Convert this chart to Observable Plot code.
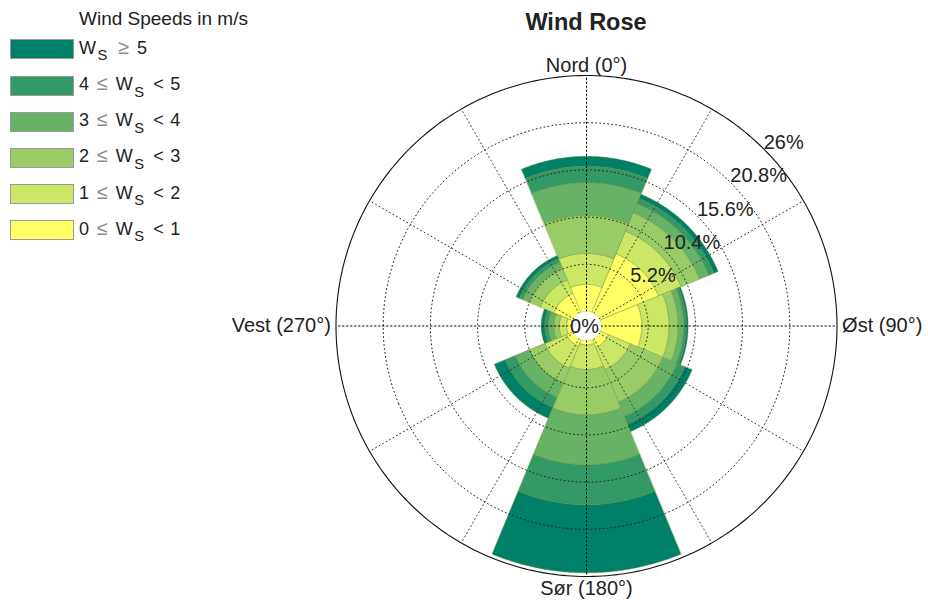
<!DOCTYPE html>
<html>
<head>
<meta charset="utf-8">
<script src="https://cdn.jsdelivr.net/npm/d3@7"></script>
<script src="https://cdn.jsdelivr.net/npm/@observablehq/plot@0.6"></script>
<style>
  body { margin: 0; background: #fff; font-family: "Liberation Sans", Arial, Helvetica, sans-serif; color: #222; }
  #wrap { position: relative; width: 928px; height: 600px; overflow: hidden; }
  #wrap svg { position: absolute; left: 0; top: 0; }
  #title { position: absolute; left: 486px; width: 200px; top: 11px; text-align: center; font-weight: bold; font-size: 23.5px; line-height: 23px; }
  #legend-title { position: absolute; left: 79px; top: 9px; font-size: 19px; line-height: 19px; white-space: nowrap; }
  .sw { position: absolute; left: 10px; width: 64px; height: 20px; border: 1px solid #9a9a9a; box-sizing: border-box; }
  .lab { position: absolute; left: 79px; font-size: 18px; line-height: 20px; white-space: nowrap; }
  .lab .op { color: #8a8a8a; margin: 0 0.4em; font-size: 1.1em; }
  .lab .w { letter-spacing: 0.5px; }
  .lab sub { font-size: 0.82em; vertical-align: -0.45em; line-height: 0; margin-left: 1px; margin-right: 3px; }
  .lab .lt { margin: 0 0.35em; }
</style>
</head>
<body>
<div id="wrap">
  <div id="title">Wind Rose</div>
  <div id="legend-title">Wind Speeds in m/s</div>
</div>
<script>
// ---------- data ----------
const directions = ["N", "NE", "E", "SE", "S", "SW", "W", "NW"];
const dirAngles = [0, 45, 90, 135, 180, 225, 270, 315];
const speedBins = ["0-1", "1-2", "2-3", "3-4", "4-5", ">=5"];
const binColors = ["#ffff66", "#cce666", "#99cc66", "#66b366", "#339966", "#008066"];
// frequency (%) per direction for each wind-speed bin
const f0to1 = [3.0, 7.0, 4.5, 1.0, 0.5, 0.8, 0.6, 2.3];
const f1to2 = [3.4, 2.7, 3.0, 2.6, 2.7, 2.6, 0.8, 1.6];
const f2to3 = [4.2, 2.2, 1.0, 3.9, 5.0, 1.8, 0.6, 1.4];
const f3to4 = [3.6, 1.1, 0.6, 1.7, 5.5, 1.7, 0.6, 0.7];
const f4to5 = [1.8, 0.6, 0.3, 0.9, 4.4, 1.2, 0.4, 0.4];
const f5up  = [1.1, 0.5, 0.2, 0.9, 7.5, 1.3, 0.4, 0.4];
const radialTicks = [5.2, 10.4, 15.6, 20.8, 26];
const gridAngles = [0, 30, 60, 90, 120, 150, 180, 210, 240, 270, 300, 330];
const axisLabels = ["Nord (0°)", "Øst (90°)", "Sør (180°)", "Vest (270°)"];
const axisAngles = [0, 90, 180, 270];
const legendLabels = [
  '<span class="w">W</span><sub>S</sub><span class="op">≥</span>5',
  '4<span class="op">≤</span><span class="w">W</span><sub>S</sub><span class="lt">&lt;</span>5',
  '3<span class="op">≤</span><span class="w">W</span><sub>S</sub><span class="lt">&lt;</span>4',
  '2<span class="op">≤</span><span class="w">W</span><sub>S</sub><span class="lt">&lt;</span>3',
  '1<span class="op">≤</span><span class="w">W</span><sub>S</sub><span class="lt">&lt;</span>2',
  '0<span class="op">≤</span><span class="w">W</span><sub>S</sub><span class="lt">&lt;</span>1'
];

// ---------- geometry helpers ----------
const series = [f0to1, f1to2, f2to3, f3to4, f4to5, f5up];
const OFFSET = 1.6;               // radial room for the central "0%" disc (in % units)
const RMAX = radialTicks[radialTicks.length - 1];
const rad = v => OFFSET + v;      // radial distance in "degrees" from the pole
const lon = a => 180 - a;         // compass angle -> longitude (pole-centred projection)
const lat = v => 90 - rad(v);
const HALF = 22.5;

const features = [];
directions.forEach((d, i) => {
  let cum = 0;
  series.forEach((arr, b) => {
    const r0 = cum, r1 = cum + arr[i];
    cum = r1;
    const a0 = dirAngles[i] - HALF, a1 = dirAngles[i] + HALF;
    const ring = [];
    for (let a = a0; a <= a1 + 1e-9; a += 0.5) ring.push([lon(a), lat(r1)]);
    for (let a = a1; a >= a0 - 1e-9; a -= 0.5) ring.push([lon(a), lat(r0)]);
    ring.push(ring[0].slice());
    const f = {type: "Feature", properties: {bin: speedBins[b], dir: d},
               geometry: {type: "Polygon", coordinates: [ring]}};
    if (d3.geoArea(f) > 2 * Math.PI) ring.reverse();
    features.push(f);
  });
});

const circle = v => d3.geoCircle().center([0, 90]).radius(rad(v)).precision(1)();
const gridCircles = radialTicks.slice(0, -1).map(circle);
const spokes = gridAngles.map(a => ({type: "LineString", coordinates: [[lon(a), lat(0)], [lon(a), lat(RMAX)]]}));
const cardinalSpokes = spokes.filter((s, i) => gridAngles[i] % 90 === 0);
const otherSpokes = spokes.filter((s, i) => gridAngles[i] % 90 !== 0);
const axisData = axisLabels.map((label, i) => ({label, angle: axisAngles[i]}));

// anchor just inside the outer ring so the point is never clipped by the frame
const textMark = (angle, opts) => Plot.text(axisData.filter(d => d.angle === angle), {
  x: d => lon(d.angle), y: () => lat(RMAX - 0.1), text: "label", fontSize: 20, fill: "#222", ...opts
});

const chart = Plot.plot({
  width: 928,
  height: 600,
  marginLeft: 335,
  marginRight: 91,
  marginTop: 75,
  marginBottom: 24,
  style: {fontFamily: '"Liberation Sans", Arial, Helvetica, sans-serif', background: "white"},
  projection: {
    type: "azimuthal-equidistant",
    rotate: [0, -90],
    domain: d3.geoCircle().center([0, 90]).radius(rad(RMAX))()
  },
  color: {type: "ordinal", domain: speedBins, range: binColors},
  marks: [
    Plot.geo(features, {fill: d => d.properties.bin, stroke: "#6a8a30", strokeOpacity: 0.5, strokeWidth: 0.8}),
    Plot.geo(gridCircles, {fill: "none", stroke: "#222", strokeWidth: 1, strokeDasharray: "1,3"}),
    Plot.geo(otherSpokes, {stroke: "#333", strokeWidth: 1, strokeDasharray: "1,3"}),
    Plot.geo(cardinalSpokes, {stroke: "#000", strokeWidth: 1, strokeDasharray: "1.4,2.6"}),
    Plot.geo([circle(RMAX)], {fill: "none", stroke: "#111", strokeWidth: 1.1}),
    Plot.geo([circle(0)], {fill: "white", stroke: "none"}),
    Plot.text(radialTicks, {x: () => lon(45), y: v => lat(v), text: v => v + "%",
      textAnchor: "start", lineAnchor: "bottom", fontSize: 20, fill: "#222"}),
    Plot.text([0], {x: () => 0, y: () => 89.99, text: v => v + "%", fontSize: 20, fill: "#222", dx: -2, dy: 1}),
    textMark(0, {lineAnchor: "bottom", dy: -4}),
    textMark(90, {textAnchor: "start", dx: 6}),
    textMark(180, {lineAnchor: "top", dy: 5}),
    textMark(270, {textAnchor: "end", dx: -6})
  ]
});

const wrap = document.getElementById("wrap");
wrap.insertBefore(chart, wrap.firstChild);

// legend (from the same bins / colours, strongest first)
const order = [5, 4, 3, 2, 1, 0];
order.forEach((b, k) => {
  const top = 39.3 + k * 36.2;
  const sw = document.createElement("div");
  sw.className = "sw";
  sw.style.top = top + "px";
  sw.style.background = binColors[b];
  wrap.appendChild(sw);
  const lab = document.createElement("div");
  lab.className = "lab";
  lab.style.top = (top - 2.5) + "px";
  lab.innerHTML = legendLabels[k];
  wrap.appendChild(lab);
});
</script>
</body>
</html>
